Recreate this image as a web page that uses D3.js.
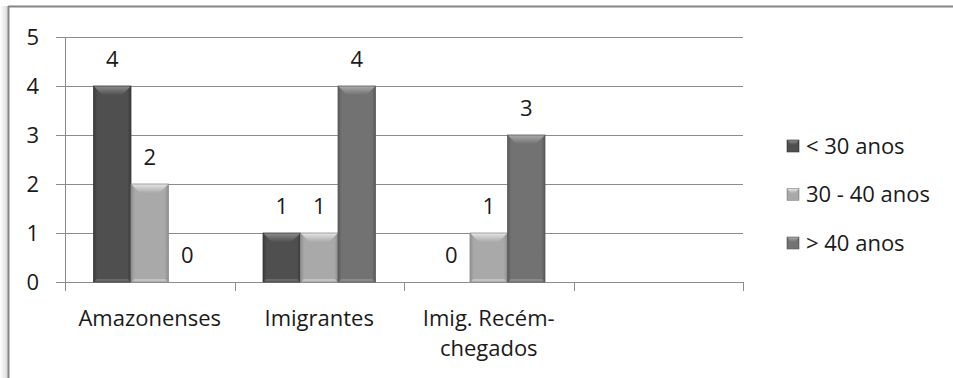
<!DOCTYPE html>
<html>
<head>
<meta charset="utf-8">
<script src="https://cdn.jsdelivr.net/npm/d3@7/dist/d3.min.js"></script>
<style>
  html, body { margin: 0; padding: 0; background: #fff; }
  svg { display: block; }
  text { font-family: "Open Sans", "Noto Sans", sans-serif; fill: #1a1a1a; }
</style>
</head>
<body>
<svg id="chart" width="953" height="378"></svg>
<script>
// ---- data ----
const categories = ["Amazonenses", "Imigrantes", "Imig. Recém-\nchegados", ""];
const seriesNames = ["< 30 anos", "30 - 40 anos", "> 40 anos"];
const under30 = [4, 1, 0, null];
const from30to40 = [2, 1, 1, null];
const over40 = [0, 4, 3, null];
const yTicks = [0, 1, 2, 3, 4, 5];

const seriesValues = [under30, from30to40, over40];
const seriesColors = [
  { base: "#4f4f4f", edge: "#3a3a3a", light: "#8a8a8a" },
  { base: "#a9a9a9", edge: "#8e8e8e", light: "#e2e2e2" },
  { base: "#727272", edge: "#5a5a5a", light: "#a8a8a8" }
];

const svg = d3.select("#chart");
const W = 953, H = 378;
const plotLeft = 65, plotRight = 743, plotTop = 37, plotBottom = 282;
const fontSize = 22;

const defs = svg.append("defs");
seriesColors.forEach((c, i) => {
  const g = defs.append("linearGradient").attr("id", "side" + i)
    .attr("x1", 0).attr("x2", 1).attr("y1", 0).attr("y2", 0);
  g.append("stop").attr("offset", "0%").attr("stop-color", c.edge);
  g.append("stop").attr("offset", "10%").attr("stop-color", c.base);
  g.append("stop").attr("offset", "90%").attr("stop-color", c.base);
  g.append("stop").attr("offset", "100%").attr("stop-color", c.edge);
  const t = defs.append("linearGradient").attr("id", "top" + i)
    .attr("x1", 0).attr("x2", 0).attr("y1", 0).attr("y2", 1);
  t.append("stop").attr("offset", "0%").attr("stop-color", c.light);
  t.append("stop").attr("offset", "100%").attr("stop-color", c.base);
});
const sh = defs.append("linearGradient").attr("id", "frameShadow")
  .attr("x1", 0).attr("x2", 1).attr("y1", 0).attr("y2", 0);
sh.append("stop").attr("offset", "0%").attr("stop-color", "#ffffff");
sh.append("stop").attr("offset", "100%").attr("stop-color", "#d8d8d8");

// ---- frame ----
svg.append("rect").attr("x", 0).attr("y", 6).attr("width", 8).attr("height", H)
  .attr("fill", "url(#frameShadow)");
svg.append("line").attr("x1", 8).attr("x2", W).attr("y1", 6.5).attr("y2", 6.5)
  .attr("stroke", "#858585").attr("stroke-width", 2);
svg.append("line").attr("x1", 8.5).attr("x2", 8.5).attr("y1", 6).attr("y2", H)
  .attr("stroke", "#858585").attr("stroke-width", 2);

// ---- scales ----
const x0 = d3.scaleBand().domain(d3.range(categories.length)).range([plotLeft, plotRight])
  .paddingInner(0).paddingOuter(0);
const x1 = d3.scaleBand().domain(d3.range(seriesNames.length)).range([0, x0.bandwidth()])
  .paddingInner(0).paddingOuter(0.76);
const y = d3.scaleLinear().domain([0, 5]).range([plotBottom, plotTop]);

// ---- grid ----
svg.append("g").selectAll("line").data(yTicks).join("line")
  .attr("x1", plotLeft - 9).attr("x2", plotRight)
  .attr("y1", d => Math.round(y(d)) + 0.5).attr("y2", d => Math.round(y(d)) + 0.5)
  .attr("stroke", "#8c8c8c").attr("stroke-width", 1);

// y axis line
svg.append("line").attr("x1", plotLeft + 0.5).attr("x2", plotLeft + 0.5)
  .attr("y1", plotTop).attr("y2", plotBottom)
  .attr("stroke", "#8c8c8c");

// y tick labels
svg.append("g").selectAll("text").data(yTicks).join("text")
  .attr("x", 39).attr("y", d => y(d)).attr("dy", "0.36em")
  .attr("text-anchor", "end").attr("font-size", fontSize)
  .text(d => d);

// x ticks (category boundaries)
const bounds = d3.range(categories.length + 1).map(i => plotLeft + i * x0.step());
svg.append("g").selectAll("line").data(bounds).join("line")
  .attr("x1", d => Math.round(d) + 0.5).attr("x2", d => Math.round(d) + 0.5)
  .attr("y1", plotBottom).attr("y2", plotBottom + 9)
  .attr("stroke", "#8c8c8c");

// x labels
const xl = svg.append("g").selectAll("text").data(categories).join("text")
  .attr("x", (d, i) => x0(i) + x0.bandwidth() / 2)
  .attr("y", 326).attr("text-anchor", "middle").attr("font-size", fontSize);
xl.each(function(d, i) {
  const lines = d.split("\n");
  d3.select(this).selectAll("tspan").data(lines).join("tspan")
    .attr("x", x0(i) + x0.bandwidth() / 2)
    .attr("dy", (l, j) => j === 0 ? 0 : 30)
    .text(l => l);
});

// ---- bars ----
const bevel = 9;
seriesValues.forEach((vals, s) => {
  const g = svg.append("g");
  vals.forEach((v, i) => {
    if (v === null) return;
    const bx = x0(i) + x1(s);
    const bw = x1.bandwidth();
    const by = y(v);
    const bh = y(0) - y(v);
    if (bh > 0) {
      g.append("rect").attr("x", bx).attr("y", by).attr("width", bw).attr("height", bh)
        .attr("fill", `url(#side${s})`)
        .attr("stroke", seriesColors[s].edge).attr("stroke-width", 0.8);
      const b = Math.min(bevel, bh / 2);
      g.append("polygon")
        .attr("points", [[bx + 0.5, by + 0.5], [bx + bw - 0.5, by + 0.5], [bx + bw - b, by + b], [bx + b, by + b]].join(" "))
        .attr("fill", `url(#top${s})`);
      g.append("polygon")
        .attr("points", [[bx + 1, y(0) - 0.5], [bx + bw - 1, y(0) - 0.5], [bx + bw - 3, y(0) - 3], [bx + 3, y(0) - 3]].join(" "))
        .attr("fill", seriesColors[s].light).attr("opacity", 0.45);
    }
    g.append("text").attr("x", bx + bw / 2).attr("y", by - 19)
      .attr("text-anchor", "middle").attr("font-size", fontSize).text(v);
  });
});

// ---- legend ----
const lg = svg.append("g").selectAll("g").data(seriesNames).join("g")
  .attr("transform", (d, i) => `translate(787, ${146 + i * 48.5})`);
lg.append("rect").attr("x", 0).attr("y", -6).attr("width", 12).attr("height", 12)
  .attr("fill", (d, i) => `url(#side${i})`)
  .attr("stroke", (d, i) => seriesColors[i].edge).attr("stroke-width", 0.6);
lg.append("polygon")
  .attr("points", [[0.5, -5.5], [11.5, -5.5], [8, -1], [4, -1]].join(" "))
  .attr("fill", (d, i) => `url(#top${i})`);
lg.append("text").attr("x", 19).attr("y", 0).attr("dy", "0.36em")
  .attr("font-size", fontSize).text(d => d);
</script>
</body>
</html>
